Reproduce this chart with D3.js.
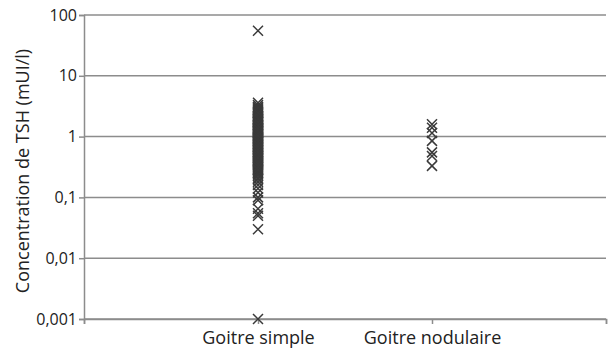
<!DOCTYPE html>
<html>
<head>
<meta charset="utf-8">
<script src="https://cdn.jsdelivr.net/npm/d3@7"></script>
<style>
  body { margin: 0; background: #fff; }
  text { font-family: "Open Sans", sans-serif; fill: #222; }
</style>
</head>
<body>
<svg id="chart" width="608" height="351"></svg>
<script>
const categories = ['Goitre simple', 'Goitre nodulaire'];
const yTicks = [0.001, 0.01, 0.1, 1, 10, 100];
const yTickLabels = ['0,001', '0,01', '0,1', '1', '10', '100'];

// TSH values (mUI/l)
const simpleValues = [
  55, 3.6, 3.3, 3.1, 2.9, 2.8, 2.7, 2.6, 2.5, 2.4, 2.3, 2.2, 2.15, 2.1, 2.0,
  1.95, 1.9, 1.85, 1.8, 1.75, 1.7, 1.65, 1.6, 1.55, 1.5, 1.45, 1.4, 1.37, 1.33,
  1.3, 1.27, 1.24, 1.2, 1.17, 1.14, 1.1, 1.07, 1.04, 1.0, 0.97, 0.94, 0.91,
  0.88, 0.85, 0.82, 0.8, 0.77, 0.75, 0.72, 0.7, 0.68, 0.66, 0.64, 0.62, 0.6,
  0.58, 0.56, 0.54, 0.52, 0.5, 0.48, 0.46, 0.44, 0.43, 0.41, 0.4, 0.38, 0.37,
  0.35, 0.34, 0.33, 0.31, 0.3, 0.29, 0.28, 0.27, 0.26, 0.25, 0.24, 0.23,
  3.0, 2.45, 1.98, 1.72, 1.52, 1.35, 1.22, 1.12, 1.02, 0.92, 0.83, 0.74, 0.67,
  0.61, 0.55, 0.49, 0.45, 0.39, 0.36, 0.32, 0.285,
  0.21, 0.2, 0.18, 0.16, 0.14, 0.12, 0.1, 0.09, 0.065, 0.055, 0.05, 0.03, 0.001
];
const nodulaireValues = [1.6, 1.4, 1.15, 0.85, 0.55, 0.48, 0.33];

const svg = d3.select('#chart');
const margin = { top: 15, right: 2, bottom: 32, left: 84 };
const width = 608 - margin.left - margin.right;
const height = 351 - margin.top - margin.bottom;

const g = svg.append('g').attr('transform', `translate(${margin.left},${margin.top})`);

const x = d3.scaleLinear().domain([0, 3]).range([0, width]);
const y = d3.scaleLog().domain([0.001, 100]).range([height, 0]);

// gridlines
g.selectAll('.grid')
  .data(yTicks)
  .join('line')
  .attr('x1', 0)
  .attr('x2', width)
  .attr('y1', d => y(d))
  .attr('y2', d => y(d))
  .attr('stroke', '#8c8c8c')
  .attr('stroke-width', 1.5);

// y axis
const yAxis = d3.axisLeft(y)
  .tickValues(yTicks)
  .tickFormat((d, i) => yTickLabels[i])
  .tickSize(5)
  .tickPadding(2);
const ya = g.append('g').call(yAxis);
ya.select('.domain').attr('stroke', '#8c8c8c').attr('stroke-width', 1.5);
ya.selectAll('.tick line').attr('stroke', '#8c8c8c').attr('stroke-width', 1.5);
ya.selectAll('text').style('font-size', '16px').style('font-family', '"Open Sans", sans-serif').attr('fill', '#222');

// x axis
const xAxis = d3.axisBottom(x)
  .tickValues([0, 1, 2, 3])
  .tickFormat(d => categories[d - 1] || '')
  .tickSize(5)
  .tickPadding(7);
const xa = g.append('g').attr('transform', `translate(0,${height})`).call(xAxis);
xa.select('.domain').attr('stroke', '#8c8c8c').attr('stroke-width', 1.5);
xa.selectAll('.tick line').attr('stroke', '#8c8c8c').attr('stroke-width', 1.5);
xa.selectAll('text').style('font-size', '18px').style('font-family', '"Open Sans", sans-serif').attr('fill', '#222');

// y title
svg.append('text')
  .attr('transform', `translate(29,${margin.top + height / 2 + 4}) rotate(-90)`)
  .attr('text-anchor', 'middle')
  .style('font-size', '18px')
  .text('Concentration de TSH (mUI/l)');

// markers
const points = [
  ...simpleValues.map(v => ({ cat: 1, v })),
  ...nodulaireValues.map(v => ({ cat: 2, v }))
];
const s = 5;
g.selectAll('.pt')
  .data(points)
  .join('path')
  .attr('transform', d => `translate(${x(d.cat)},${y(d.v)})`)
  .attr('d', `M${-s},${-s}L${s},${s}M${-s},${s}L${s},${-s}`)
  .attr('stroke', '#3a3a3a')
  .attr('stroke-width', 1.5)
  .attr('fill', 'none');
</script>
</body>
</html>
